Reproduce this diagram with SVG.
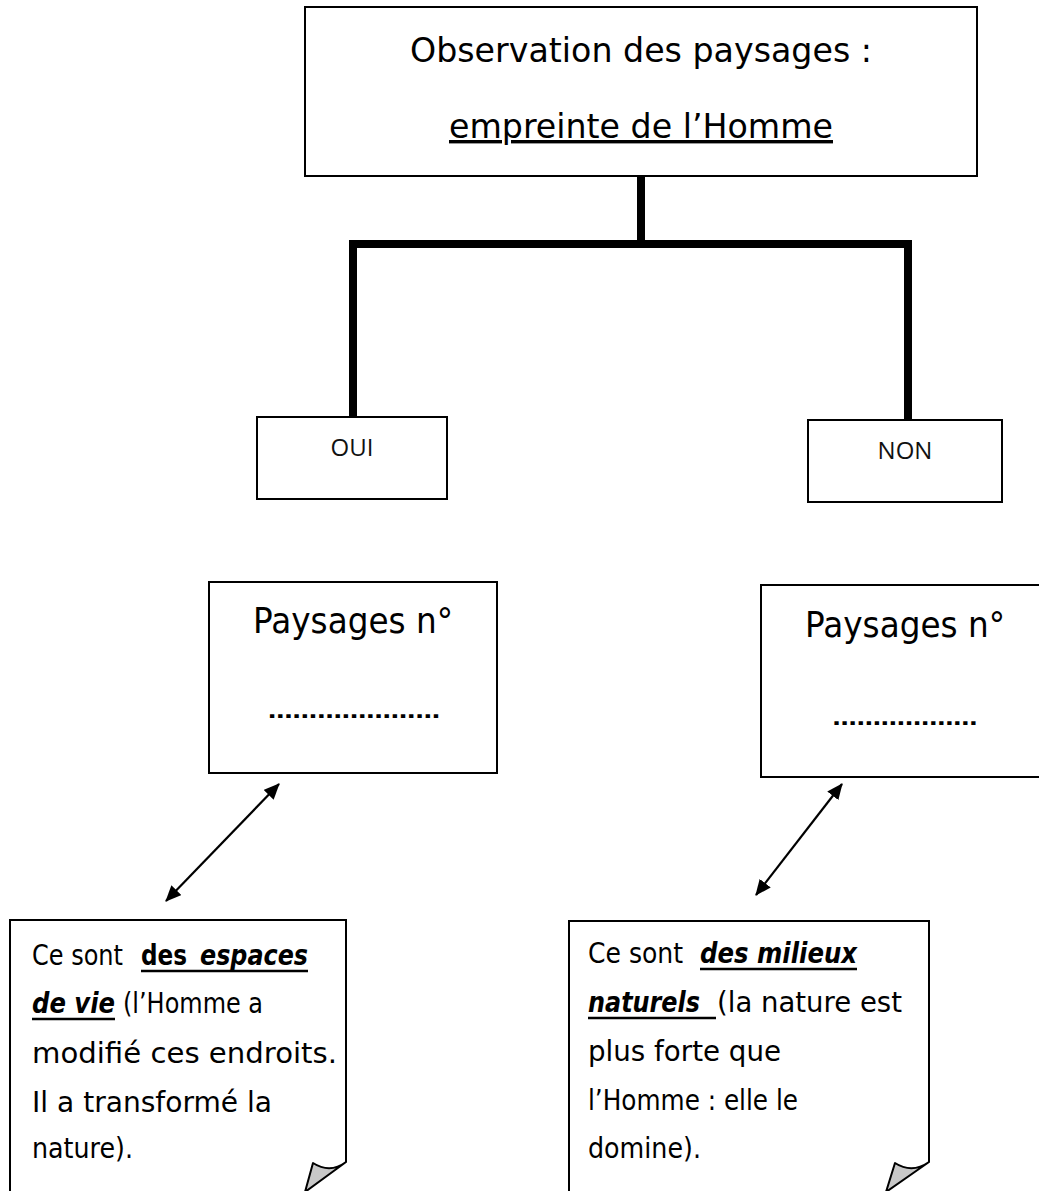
<svg xmlns="http://www.w3.org/2000/svg" width="1039" height="1191" viewBox="0 0 1039 1191">
<style>
.box{fill:#fff;stroke:#000;stroke-width:2}
.cs{font-family:'Comic Sans MS','DejaVu Sans',sans-serif;fill:#000}
.b{font-weight:bold}
.bi{font-weight:bold;font-style:italic}
.os{font-family:'Open Sans','DejaVu Sans',sans-serif;fill:#111;font-size:24px}
.tree{fill:none;stroke:#000;stroke-width:8;stroke-linecap:square}
.arr{stroke:#000;stroke-width:2.2;marker-start:url(#ah);marker-end:url(#ah)}
.curl{fill:#c8c8c8;stroke:#000;stroke-width:2;stroke-linejoin:round}
.ul{stroke:#000;stroke-width:2.5}
.u{text-decoration:underline}
</style>
<defs>
<marker id="ah" viewBox="0 0 16 14" refX="15" refY="7" markerWidth="16" markerHeight="14" orient="auto-start-reverse" markerUnits="userSpaceOnUse">
<path d="M0,0 L16,7 L0,14 Z" fill="#000"/>
</marker>
</defs>
<rect width="1039" height="1191" fill="#fff"/>

<g id="connectors">
<path class="tree" d="M641,177 V244 M353,416 V244 H908 V419"/>
<line class="arr" x1="166" y1="901" x2="279" y2="784"/>
<line class="arr" x1="756" y1="895" x2="842" y2="784"/>
</g>

<g id="title">
<rect class="box" x="305" y="7" width="672" height="169"/>
<text class="cs" x="641" y="62" font-size="34" text-anchor="middle" textLength="462" lengthAdjust="spacingAndGlyphs">Observation des paysages :</text>
<text class="cs u" x="641" y="138" font-size="34" text-anchor="middle" textLength="384" lengthAdjust="spacingAndGlyphs">empreinte de l’Homme</text>
</g>

<g id="oui">
<rect class="box" x="257" y="417" width="190" height="82"/>
<text class="os" x="352" y="456" text-anchor="middle">OUI</text>
</g>

<g id="non">
<rect class="box" x="808" y="420" width="194" height="82"/>
<text class="os" x="905" y="459" text-anchor="middle">NON</text>
</g>

<g id="paysages-oui">
<rect class="box" x="209" y="582" width="288" height="191"/>
<text class="cs" x="353" y="633" font-size="35" text-anchor="middle" textLength="200" lengthAdjust="spacingAndGlyphs">Paysages n°</text>
<text class="cs b" x="354" y="718" font-size="20" text-anchor="middle" textLength="172" lengthAdjust="spacingAndGlyphs">…………………</text>
</g>

<g id="paysages-non">
<rect class="box" x="761" y="585" width="288" height="192"/>
<text class="cs" x="905" y="637" font-size="35" text-anchor="middle" textLength="200" lengthAdjust="spacingAndGlyphs">Paysages n°</text>
<text class="cs b" x="905" y="725" font-size="20" text-anchor="middle" textLength="145" lengthAdjust="spacingAndGlyphs">………………</text>
</g>

<g id="note-oui">
<path class="box" d="M10,1200 V920 H346 V1162"/>
<path class="curl" d="M346,1162 Q330,1174 313,1163 L305,1192 Z"/>
<g class="cs" font-size="28">
<text x="32" y="965" textLength="91" lengthAdjust="spacingAndGlyphs">Ce sont</text>
<text class="b" x="141" y="965" textLength="46" lengthAdjust="spacingAndGlyphs">des</text>
<text class="bi" x="200" y="965" textLength="108" lengthAdjust="spacingAndGlyphs">espaces</text>
<line class="ul" x1="141" y1="971" x2="308" y2="971"/>
<text class="bi" x="32" y="1013" textLength="83" lengthAdjust="spacingAndGlyphs">de vie</text>
<line class="ul" x1="32" y1="1019" x2="115" y2="1019"/>
<text x="123" y="1013" textLength="140" lengthAdjust="spacingAndGlyphs">(l’Homme a</text>
<text x="32" y="1063" textLength="305" lengthAdjust="spacingAndGlyphs">modifié ces endroits.</text>
<text x="32" y="1112" textLength="240" lengthAdjust="spacingAndGlyphs">Il a transformé la</text>
<text x="32" y="1158" textLength="101" lengthAdjust="spacingAndGlyphs">nature).</text>
</g>
</g>

<g id="note-non">
<path class="box" d="M569,1200 V921 H929 V1162"/>
<path class="curl" d="M929,1162 Q912,1174 895,1163 L886,1192 Z"/>
<g class="cs" font-size="28">
<text x="588" y="963" textLength="95" lengthAdjust="spacingAndGlyphs">Ce sont</text>
<text class="bi" x="700" y="963" textLength="157" lengthAdjust="spacingAndGlyphs">des milieux</text>
<line class="ul" x1="700" y1="969" x2="857" y2="969"/>
<text class="bi" x="588" y="1012" textLength="112" lengthAdjust="spacingAndGlyphs">naturels</text>
<line class="ul" x1="588" y1="1018" x2="716" y2="1018"/>
<text x="717" y="1012" textLength="185" lengthAdjust="spacingAndGlyphs">(la nature est</text>
<text x="588" y="1061" textLength="193" lengthAdjust="spacingAndGlyphs">plus forte que</text>
<text x="588" y="1110" textLength="210" lengthAdjust="spacingAndGlyphs">l’Homme : elle le</text>
<text x="588" y="1158" textLength="113" lengthAdjust="spacingAndGlyphs">domine).</text>
</g>
</g>
</svg>
